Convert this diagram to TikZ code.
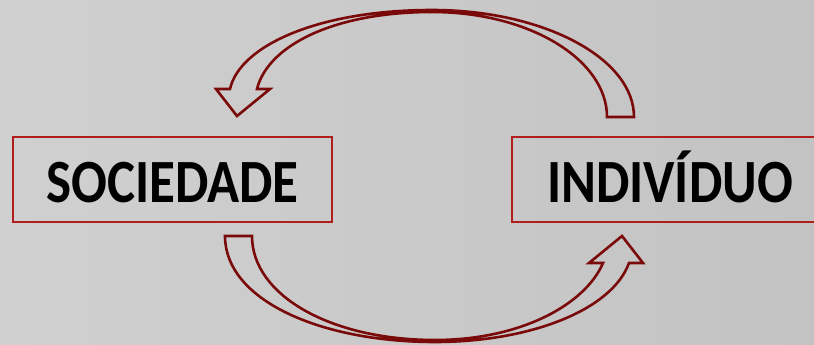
\documentclass[tikz,border=0pt]{standalone}
\usepackage{fontspec}
\setmainfont{Carlito}
\definecolor{boxred}{HTML}{B01E1E}
\definecolor{arrowred}{HTML}{7A0A0A}
\definecolor{bgleft}{HTML}{D0D0D0}
\definecolor{bgright}{HTML}{C3C3C3}
\newcommand{\tallword}[1]{\scalebox{1}[1.16]{#1}}
\tikzset{
  label box/.style={draw=boxred, line width=1.8pt, minimum height=85pt, inner sep=0pt,
    text height=45pt, text depth=0pt,
    font=\fontsize{53}{60}\selectfont\bfseries, text=black},
  block arrow/.style={draw=arrowred, line width=2.6pt, line join=miter}
}
\begin{document}
\begin{tikzpicture}[x=1pt,y=-1pt]
\useasboundingbox (0,0) rectangle (814,345);
\clip (0,0) rectangle (814,345);
\shade[left color=bgleft, right color=bgright] (0,0) rectangle (814,345);
\node[label box, minimum width=319pt] (soc) at (172.5,179.5) {\tallword{SOCIEDADE}};
\node[label box, minimum width=316pt] (ind) at (670,179.5) {\tallword{INDIVÍDUO}};
% top curved arrow (individuo -> sociedade)
\draw[block arrow] (607,117) -- (634,117)
  .. controls (634,58) and (543,10) .. (432,10)
  .. controls (320,10) and (240,45) .. (230,89)
  -- (216,89) -- (237,116) -- (270,89) -- (257,89)
  .. controls (268,45) and (335,12) .. (432,12)
  .. controls (530,12) and (607,60) .. (607,117) -- cycle;
% bottom curved arrow (sociedade -> individuo)
\draw[block arrow] (252,236) -- (225,236)
  .. controls (225,300) and (320,342) .. (435,342)
  .. controls (530,342) and (612,310) .. (629,263)
  -- (643,263) -- (622,236) -- (589,263) -- (603,263)
  .. controls (585,305) and (520,340) .. (435,340)
  .. controls (330,340) and (252,295) .. (252,236) -- cycle;
\end{tikzpicture}
\end{document}
